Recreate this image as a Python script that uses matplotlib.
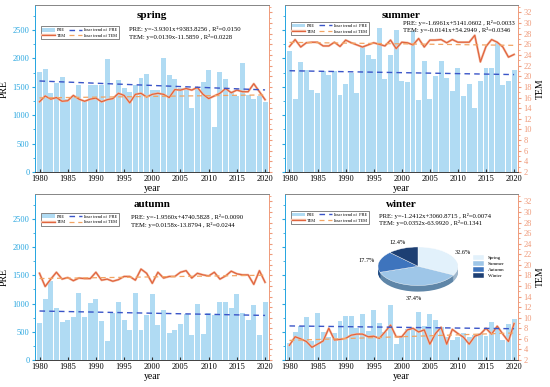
import numpy as np
import matplotlib
matplotlib.use("Agg")
import matplotlib.pyplot as plt
import matplotlib.patheffects as pe
from matplotlib.ticker import MultipleLocator

plt.rcParams['font.family'] = ['Liberation Serif', 'DejaVu Serif']

years = list(range(1980, 2021))

# precipitation (PRE) per season
spring_pre = [1766, 1813, 1385, 1570, 1667, 1290, 1320, 1532, 1260, 1530, 1540, 1540, 1989, 1300,
              1620, 1473, 1403, 1532, 1650, 1720, 1450, 1444, 2001, 1708, 1632, 1480, 1440, 1121,
              1470, 1579, 1796, 800, 1755, 1637, 1430, 1340, 1913, 1350, 1290, 1340, 1238]
summer_pre = [2124, 1282, 1935, 1800, 1435, 1388, 1770, 1712, 1770, 1359, 1547, 1741, 1388, 2224,
              2065, 1988, 2535, 1641, 2065, 2494, 1606, 1576, 2476, 1270, 1947, 1282, 1694, 1947,
              1653, 1418, 1829, 1341, 1553, 1118, 1594, 1829, 1829, 2271, 1535, 1606, 1788]
autumn_pre = [657, 1086, 1408, 927, 675, 716, 763, 1191, 763, 1009, 1086, 692, 340, 839,
              1027, 716, 540, 1185, 540, 792, 1162, 628, 892, 481, 540, 646, 822, 440,
              998, 458, 833, 792, 1027, 1027, 927, 1162, 833, 716, 980, 440, 1027]
winter_pre = [306, 500, 600, 765, 340, 824, 500, 410, 480, 694, 782, 782, 570, 812,
              518, 894, 659, 494, 970, 282, 410, 541, 541, 853, 600, 812, 706, 576,
              410, 353, 410, 482, 410, 441, 470, 424, 665, 541, 353, 629, 730]

# temperature (TEM) per season
spring_tem = [15.2, 16.3, 15.7, 16.0, 15.3, 15.4, 16.4, 15.7, 15.3, 15.7, 15.9, 15.2, 15.6, 15.8,
              16.8, 16.4, 15.0, 16.6, 16.8, 16.1, 16.6, 16.8, 16.6, 16.0, 17.5, 17.4, 17.7, 17.4,
              17.9, 16.6, 15.8, 16.3, 16.8, 17.7, 16.9, 17.4, 17.1, 17.1, 18.6, 17.1, 15.6]
summer_tem = [25.6, 26.9, 25.5, 26.3, 26.4, 26.4, 25.7, 25.7, 26.4, 25.6, 26.8, 26.3, 25.9, 25.5,
              25.9, 26.3, 26.0, 25.7, 26.8, 25.2, 26.4, 26.3, 25.9, 27.1, 25.5, 26.8, 26.8, 26.9,
              26.3, 26.9, 26.4, 26.4, 26.4, 27.7, 22.7, 25.6, 26.9, 26.4, 25.5, 23.6, 24.1]
autumn_tem = [18.4, 15.9, 17.3, 18.6, 17.3, 17.6, 17.0, 17.5, 17.4, 17.4, 18.6, 17.1, 17.3, 16.9,
              17.2, 17.8, 17.8, 17.1, 19.2, 18.4, 16.5, 18.6, 17.5, 17.8, 17.8, 18.6, 18.9, 17.5,
              18.4, 18.1, 17.9, 18.6, 17.3, 17.9, 18.8, 18.3, 18.1, 18.1, 16.3, 18.9, 16.7]
winter_tem = [4.8, 6.4, 6.0, 5.5, 4.4, 5.0, 5.6, 8.0, 5.8, 5.9, 6.1, 6.7, 6.9, 6.9,
              6.4, 6.5, 6.1, 7.3, 8.6, 6.4, 6.4, 7.7, 8.0, 7.3, 7.7, 5.0, 7.0, 8.2,
              5.0, 7.8, 7.0, 6.3, 5.0, 6.5, 6.9, 8.0, 6.9, 8.4, 6.9, 5.5, 8.9]

# linear trend (slope, intercept, R2) as printed on the chart
spring_fit = [(-3.9301, 9383.8256, 0.0150), (0.0139, -11.5859, 0.0228)]
summer_fit = [(-1.6961, 5141.0602, 0.0033), (-0.0141, 54.2949, 0.0346)]
autumn_fit = [(-1.9560, 4740.5828, 0.0090), (0.0158, -13.8794, 0.0244)]
winter_fit = [(-1.2412, 3060.8715, 0.0074), (0.0352, -63.9920, 0.1341)]

# seasonal share of annual precipitation
pie_labels = ["Spring", "Summer", "Autumn", "Winter"]
pie_share = [32.6, 37.4, 17.7, 12.4]

BAR = '#b0dbf3'
BLUE_AX = '#2aa7e0'
ORANGE_AX = '#ef9a7a'
TEM_C = '#e0643e'
PRE_TREND = '#3a55c8'
TEM_TREND = '#f2a463'
PRE_MAX = 2940
TEM_LIM = (2, 33.4)


def fmt_eq(name, a, b, r2):
    sign = '+' if b >= 0 else '-'
    return "%s: y=%.4fx%s%.4f , R\u00b2=%.4f" % (name, a, sign, abs(b), r2)


def draw_panel(rect, title, pre, tem, fit, side, eq_x, eq_y, leg_xy):
    ax = fig.add_axes(rect)
    ax2 = ax.twinx()
    x = np.array(years)
    bars = ax.bar(x, pre, width=0.88, color=BAR, zorder=1)
    a, b, r2 = fit[0]
    c, d, r2t = fit[1]
    ax.set_zorder(ax2.get_zorder() - 1)
    ax2.patch.set_visible(False)
    l2, = ax2.plot(x, tem, color=TEM_C, lw=0.9,
                   path_effects=[pe.Stroke(linewidth=1.7, foreground='#f5c2ac'), pe.Normal()])
    l3, = ax2.plot(x, c * x + d, ls='--', color=TEM_TREND, lw=0.9, dashes=(4, 3))
    # PRE trend drawn on the top axes (rescaled) so it stays above the temperature line
    pre_trend = (a * x + b) / PRE_MAX * (TEM_LIM[1] - TEM_LIM[0]) + TEM_LIM[0]
    l1, = ax2.plot(x, pre_trend, ls='--', color=PRE_TREND, lw=1.0, dashes=(4, 3))

    ax.set_xlim(1979.2, 2020.7)
    ax.set_ylim(0, PRE_MAX)
    ax2.set_ylim(*TEM_LIM)
    ax.xaxis.set_major_locator(MultipleLocator(5))
    ax.yaxis.set_major_locator(MultipleLocator(500))
    ax.yaxis.set_minor_locator(MultipleLocator(250))
    ax2.yaxis.set_major_locator(MultipleLocator(2))
    ax2.yaxis.set_minor_locator(MultipleLocator(1))
    ax.tick_params(axis='x', direction='in', length=2.5, labelsize=6, pad=2, color='#333333')
    ax.tick_params(axis='y', which='both', colors=BLUE_AX, labelsize=6, length=2, pad=2)
    ax.tick_params(axis='y', which='minor', length=1.2)
    ax2.tick_params(axis='y', which='both', colors=ORANGE_AX, labelsize=6, length=2, pad=2)
    ax2.tick_params(axis='y', which='minor', length=1.2)
    ax.spines['left'].set_color(BLUE_AX)
    ax2.spines['left'].set_color(BLUE_AX)
    ax2.spines['right'].set_color(ORANGE_AX)
    ax.spines['right'].set_visible(False)
    for sp in (ax, ax2):
        sp.spines['top'].set_color('#888888')
        sp.spines['bottom'].set_color('#444444')
    for s in ('left', 'right', 'top', 'bottom'):
        ax.spines[s].set_linewidth(0.7)
        ax2.spines[s].set_linewidth(0.7)
    if side == 'left':
        ax.set_ylabel("PRE", fontsize=7, labelpad=3)
        ax2.set_yticklabels([])
    else:
        ax.set_yticklabels([])
        ax2.set_ylabel("TEM", fontsize=7, labelpad=3)
    ax.set_xlabel("year", fontsize=7, labelpad=1)
    ax2.text(0.5, 0.965, title, transform=ax.transAxes, ha='center', va='top',
             fontsize=8, fontweight='bold')
    ax2.text(eq_x, eq_y, fmt_eq("PRE", a, b, r2), transform=ax.transAxes,
             ha='left', va='center', fontsize=4.8)
    ax2.text(eq_x, eq_y - 0.045, fmt_eq("TEM", c, d, r2t), transform=ax.transAxes,
             ha='left', va='center', fontsize=4.8)
    leg = ax2.legend([bars, l2, l1, l3], ["PRE", "TEM", "liner trend of  PRE", "liner trend of TEM"],
                     ncol=2, loc='upper left', bbox_to_anchor=leg_xy, fontsize=3.2,
                     frameon=True, fancybox=False, edgecolor='#555555', handlelength=2.8,
                     handleheight=0.9, columnspacing=0.7, borderpad=0.35, labelspacing=0.25,
                     handletextpad=0.5, framealpha=1)
    leg.get_frame().set_linewidth(0.5)
    return ax


fig = plt.figure(figsize=(5.5, 3.87), dpi=100)
W, H = 550.0, 387.0
top_rect_l = [35 / W, 1 - 172 / H, 234 / W, 167 / H]
top_rect_r = [285 / W, 1 - 172 / H, 233 / W, 167 / H]
bot_rect_l = [35 / W, 1 - 360 / H, 234 / W, 166 / H]
bot_rect_r = [285 / W, 1 - 360 / H, 233 / W, 166 / H]

draw_panel(top_rect_l, "spring", spring_pre, spring_tem, spring_fit, 'left', 0.40, 0.855, (0.015, 0.885))
draw_panel(top_rect_r, "summer", summer_pre, summer_tem, summer_fit, 'right', 0.505, 0.895, (0.015, 0.91))
draw_panel(bot_rect_l, "autumn", autumn_pre, autumn_tem, autumn_fit, 'left', 0.41, 0.86, (0.015, 0.9))
draw_panel(bot_rect_r, "winter", winter_pre, winter_tem, winter_fit, 'right', 0.405, 0.87, (0.015, 0.91))

# pseudo-3D pie inside the winter panel
pax = fig.add_axes([376 / W, 1 - 300 / H, 84 / W, 54 / H])
top_cols = ['#e2f1fb', '#9ec6e8', '#3e74bd', '#1d3f73']
side_cols = ['#9fb7cc', '#5f86a8', '#244f86', '#122a4d']
for k in range(7, 0, -1):
    pax.pie(pie_share, colors=side_cols, startangle=90, counterclock=False,
            center=(0, -0.045 * k), radius=1.0, wedgeprops=dict(linewidth=0))
wedges, texts, autotexts = pax.pie(pie_share, colors=top_cols, startangle=90, counterclock=False,
                                   radius=1.0, autopct='%.1f%%', pctdistance=1.32,
                                   wedgeprops=dict(linewidth=0.3, edgecolor='white'),
                                   textprops=dict(fontsize=4.5))
autotexts[1].set_y(autotexts[1].get_position()[1] - 0.35)
pax.set_aspect('auto')
pax.set_xlim(-1.05, 1.05)
pax.set_ylim(-1.75, 1.05)
pax.legend(wedges, pie_labels, loc='center left', bbox_to_anchor=(1.12, 0.62), fontsize=3.6,
           frameon=False, handlelength=2.2, handleheight=1.1, labelspacing=0.15, borderpad=0)

fig.savefig("out.png", dpi=100)
